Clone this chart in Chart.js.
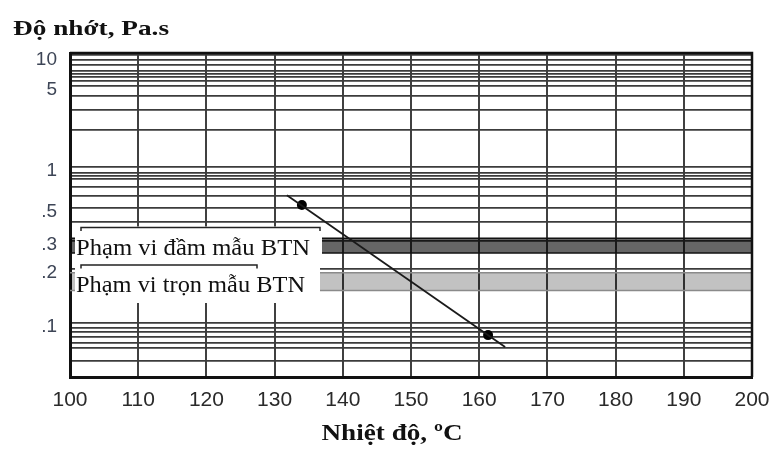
<!DOCTYPE html>
<html>
<head>
<meta charset="utf-8">
<script src="https://cdn.jsdelivr.net/npm/chart.js@4.4.1/dist/chart.umd.min.js"></script>
<style>
html,body{margin:0;padding:0;background:#ffffff;}
#wrap{width:769px;height:453px;position:relative;}
</style>
</head>
<body>
<div id="wrap"><canvas id="c" width="769" height="453"></canvas></div>
<script>
// ---------- data ----------
const xTickLabels = ['100','110','120','130','140','150','160','170','180','190','200'];
const yGridValues = [10, 9, 8, 7, 6.5, 6, 5.5, 5, 4, 3, 2,
                     1, 0.9, 0.85, 0.8, 0.7, 0.6, 0.5, 0.4, 0.3, 0.2,
                     0.1, 0.095, 0.09, 0.085, 0.08, 0.075, 0.065];
const yLabelValues = [10, 5, 1, 0.5, 0.3, 0.2, 0.1];
const yLabelTexts  = ['10', '5', '1', '.5', '.3', '.2', '.1'];

const lineTemps = [131.8, 163.8];
const lineVisc  = [0.61, 0.076];
const pointTemps = [134, 161.3];
const pointVisc  = [0.52, 0.087];

const compactionRange = [0.25, 0.31];   // Pa.s
const mixingRange     = [0.15, 0.19];   // Pa.s
const rangeTemps = [100, 200];

const compactionText = 'Phạm vi đầm mẫu BTN';
const mixingText     = 'Phạm vi trọn mẫu BTN';
const yTitle = 'Độ nhớt, Pa.s';
const xTitle = 'Nhiệt độ, ºC';

// ---------- log-log viscosity scale (log(log(mPa.s))) ----------
const tf = v => Math.log10(Math.log10(v * 1000));
const tinv = t => Math.pow(10, Math.pow(10, t)) / 1000;

class LogLogScale extends Chart.Scale {
  static id = 'loglog';
  static defaults = {};
  constructor(cfg) { super(cfg); this._startT = 0; this._rangeT = 1; }
  parse(raw) { return (raw === null || raw === undefined) ? null : +raw; }
  determineDataLimits() {
    const mm = this.getMinMax(true);
    this.min = (this.options.min !== undefined) ? this.options.min : mm.min;
    this.max = (this.options.max !== undefined) ? this.options.max : mm.max;
  }
  buildTicks() {
    return yGridValues.filter(v => v >= this.min && v <= this.max).map(v => ({ value: v }));
  }
  configure() {
    super.configure();
    this._startT = tf(this.min);
    this._rangeT = tf(this.max) - this._startT;
  }
  getLabelForValue(v) { return String(v); }
  getPixelForValue(v) {
    if (v === null || v === undefined || isNaN(v) || v <= 0) return NaN;
    return this.getPixelForDecimal((tf(v) - this._startT) / this._rangeT);
  }
  getValueForPixel(p) {
    return tinv(this._startT + this.getDecimalForPixel(p) * this._rangeT);
  }
}
Chart.register(LogLogScale);

// ---------- helpers ----------
function pts(xs, ys) { return xs.map((x, i) => ({ x: x, y: ys[i] })); }
function flat(v) { return rangeTemps.map(x => ({ x: x, y: v })); }

function drawStretched(ctx, text, x, y, width, font, color, align) {
  ctx.save();
  ctx.font = font;
  ctx.fillStyle = color;
  ctx.textBaseline = 'alphabetic';
  ctx.textAlign = 'left';
  const w = ctx.measureText(text).width;
  const sx = width / w;
  const x0 = align === 'center' ? x - width / 2 : x;
  ctx.translate(x0, y);
  ctx.scale(sx, 1);
  ctx.fillText(text, 0, 0);
  ctx.restore();
}

const overlay = {
  id: 'overlay',
  afterDatasetsDraw(chart) {
    const ctx = chart.ctx;
    const a = chart.chartArea;
    ctx.save();
    // frame top/right
    ctx.strokeStyle = '#111';
    ctx.lineWidth = 2.5;
    ctx.beginPath();
    ctx.moveTo(a.left, a.top);
    ctx.lineTo(a.right, a.top);
    ctx.lineTo(a.right, a.bottom);
    ctx.stroke();

    const boxes = [
      { x: 75, y: 226.5, w: 247, h: 37.5, bx0: 81, bx1: 320, by: 227.5, text: compactionText, tx: 76, ty: 255, tw: 234 },
      { x: 75, y: 264, w: 245, h: 39, bx0: 81, bx1: 257, by: 265, text: mixingText, tx: 76, ty: 292, tw: 229 }
    ];
    for (const b of boxes) {
      ctx.fillStyle = '#ffffff';
      ctx.fillRect(b.x, b.y, b.w, b.h);
    }
    for (const b of boxes) {
      ctx.strokeStyle = '#222';
      ctx.lineWidth = 1.5;
      ctx.beginPath();
      ctx.moveTo(b.bx0, b.by + 3.5);
      ctx.lineTo(b.bx0, b.by);
      ctx.lineTo(b.bx1, b.by);
      ctx.lineTo(b.bx1, b.by + 3.5);
      ctx.stroke();
      drawStretched(ctx, b.text, b.tx, b.ty, b.tw, '22.5px "Liberation Serif"', '#111', 'left');
    }
    ctx.restore();
  },
  afterDraw(chart) {
    const ctx = chart.ctx;
    drawStretched(ctx, yTitle, 13, 35, 156, 'bold 22px "Liberation Serif"', '#111', 'left');
    drawStretched(ctx, xTitle, 392, 440, 141, 'bold 23px "Liberation Serif"', '#111', 'center');
  }
};

new Chart(document.getElementById('c'), {
  type: 'line',
  data: {
    datasets: [
      { label: 'line', data: pts(lineTemps, lineVisc), borderColor: '#1a1a1a', borderWidth: 1.8,
        pointRadius: 0, fill: false, tension: 0 },
      { label: 'points', data: pts(pointTemps, pointVisc), showLine: false, borderWidth: 0,
        pointRadius: 5, pointBackgroundColor: '#000', pointBorderWidth: 0, fill: false },
      { label: 'compTop', data: flat(compactionRange[1]), borderColor: '#111', borderWidth: 1.5,
        pointRadius: 0, fill: false },
      { label: 'compBottom', data: flat(compactionRange[0]), borderColor: '#111', borderWidth: 1.5,
        pointRadius: 0, fill: '-1', backgroundColor: 'rgba(0,0,0,0.6)' },
      { label: 'mixTop', data: flat(mixingRange[1]), borderColor: '#8a8a8a', borderWidth: 1.5,
        pointRadius: 0, fill: false },
      { label: 'mixBottom', data: flat(mixingRange[0]), borderColor: '#8a8a8a', borderWidth: 1.5,
        pointRadius: 0, fill: '-1', backgroundColor: 'rgba(0,0,0,0.24)' }
    ]
  },
  options: {
    responsive: false,
    animation: false,
    events: [],
    layout: { padding: { left: 0, right: 17, top: 53, bottom: 0 } },
    plugins: { legend: { display: false }, tooltip: { enabled: false }, title: { display: false } },
    scales: {
      x: {
        type: 'linear',
        min: 100, max: 200,
        afterBuildTicks: s => { s.ticks = xTickLabels.map(t => ({ value: +t })); },
        afterFit: s => { s.height = 76; s.paddingLeft = 0; s.paddingRight = 0; },
        grid: { color: '#404040', lineWidth: 2, drawTicks: false },
        border: { display: true, color: '#111', width: 3 },
        ticks: {
          autoSkip: false, maxRotation: 0, padding: 11,
          color: '#2a2a2a', font: { family: 'Liberation Sans', size: 21 },
          callback: (v, i) => xTickLabels[i]
        }
      },
      y: {
        type: 'loglog',
        min: 0.055, max: 10.56,
        afterFit: s => { s.width = 70; s.paddingTop = 0; s.paddingBottom = 0; },
        grid: { color: '#3c3c3c', lineWidth: 1.7, drawTicks: false },
        border: { display: true, color: '#111', width: 3 },
        ticks: {
          autoSkip: false, padding: 13, labelOffset: 4,
          color: '#3d4556', font: { family: 'Liberation Sans', size: 19 },
          callback: (v) => { const i = yLabelValues.indexOf(v); return i >= 0 ? yLabelTexts[i] : ''; }
        }
      }
    }
  },
  plugins: [overlay]
});
</script>
</body>
</html>
